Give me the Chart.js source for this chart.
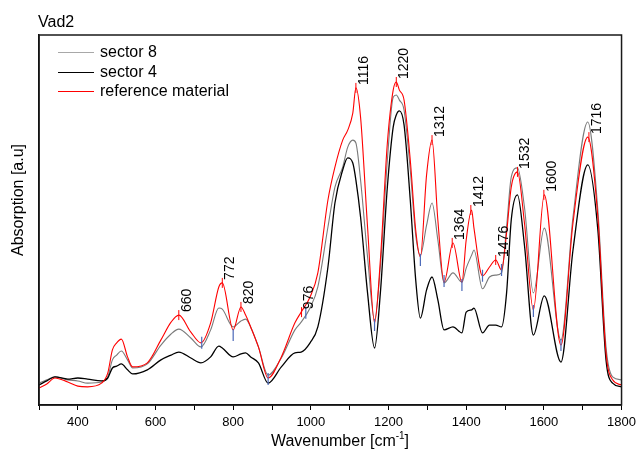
<!DOCTYPE html>
<html>
<head>
<meta charset="utf-8">
<script src="https://cdn.jsdelivr.net/npm/chart.js@4/dist/chart.umd.min.js"></script>
<style>
  html, body { margin: 0; padding: 0; background: #fff; }
  canvas { display: block; }
</style>
</head>
<body>
<canvas id="c" width="641" height="452"></canvas>
<script>
// ---- data (absorption in arbitrary units) ----
const wavenumbers = [300, 320, 341, 374, 400, 425, 461, 477, 489, 500, 512, 528, 541, 579, 614, 640, 660, 691, 717, 742, 763, 772, 800, 820, 832, 845, 865, 890, 924, 959, 975, 998, 1018, 1044, 1062, 1082, 1095, 1108, 1116, 1128, 1146, 1164, 1179, 1197, 1212, 1220, 1228, 1240, 1256, 1270, 1282, 1298, 1312, 1327, 1343, 1366, 1389, 1400, 1414, 1420, 1442, 1460, 1476, 1491, 1504, 1516, 1532, 1550, 1573, 1601, 1644, 1675, 1713, 1739, 1760, 1777, 1800];
const referenceMaterial = [0.046, 0.057, 0.073, 0.062, 0.051, 0.049, 0.059, 0.086, 0.149, 0.168, 0.178, 0.130, 0.103, 0.114, 0.176, 0.224, 0.243, 0.197, 0.168, 0.222, 0.319, 0.330, 0.203, 0.265, 0.243, 0.211, 0.157, 0.073, 0.130, 0.222, 0.251, 0.292, 0.357, 0.554, 0.643, 0.716, 0.743, 0.789, 0.857, 0.778, 0.481, 0.222, 0.392, 0.708, 0.851, 0.873, 0.851, 0.824, 0.662, 0.473, 0.400, 0.622, 0.716, 0.500, 0.332, 0.438, 0.332, 0.446, 0.527, 0.478, 0.349, 0.373, 0.392, 0.365, 0.465, 0.589, 0.630, 0.492, 0.257, 0.568, 0.162, 0.492, 0.724, 0.508, 0.141, 0.068, 0.054];
const sector8 = [0.059, 0.068, 0.076, 0.068, 0.065, 0.059, 0.062, 0.076, 0.122, 0.135, 0.146, 0.122, 0.100, 0.111, 0.162, 0.192, 0.205, 0.181, 0.157, 0.203, 0.262, 0.259, 0.211, 0.227, 0.232, 0.211, 0.157, 0.081, 0.127, 0.203, 0.224, 0.262, 0.319, 0.481, 0.589, 0.643, 0.697, 0.716, 0.708, 0.608, 0.400, 0.230, 0.373, 0.662, 0.832, 0.838, 0.824, 0.797, 0.635, 0.459, 0.405, 0.486, 0.546, 0.446, 0.330, 0.357, 0.332, 0.370, 0.405, 0.419, 0.314, 0.346, 0.351, 0.357, 0.481, 0.616, 0.641, 0.535, 0.303, 0.478, 0.176, 0.508, 0.765, 0.527, 0.157, 0.076, 0.068];
const sector4 = [0.054, 0.065, 0.076, 0.070, 0.073, 0.070, 0.065, 0.073, 0.100, 0.105, 0.111, 0.095, 0.084, 0.095, 0.122, 0.135, 0.143, 0.127, 0.114, 0.130, 0.159, 0.154, 0.130, 0.138, 0.141, 0.130, 0.114, 0.059, 0.103, 0.141, 0.143, 0.168, 0.211, 0.373, 0.546, 0.635, 0.668, 0.654, 0.608, 0.508, 0.303, 0.154, 0.303, 0.589, 0.751, 0.784, 0.795, 0.757, 0.554, 0.338, 0.235, 0.311, 0.346, 0.284, 0.203, 0.211, 0.195, 0.251, 0.257, 0.262, 0.195, 0.216, 0.216, 0.211, 0.303, 0.500, 0.568, 0.432, 0.189, 0.295, 0.116, 0.419, 0.649, 0.473, 0.122, 0.059, 0.049];

// labelled peaks of the reference material
const peakWavenumbers = [660, 772, 820, 976, 1116, 1220, 1312, 1364, 1412, 1476, 1532, 1600, 1716];
const peakValues = [0.243, 0.330, 0.265, 0.251, 0.857, 0.873, 0.716, 0.438, 0.527, 0.392, 0.630, 0.568, 0.724];

// baseline points (blue marks)
const baselineWavenumbers = [719, 800, 890, 987, 1164, 1282, 1343, 1389, 1442, 1491, 1573, 1644];
const baselineValues = [0.168, 0.189, 0.070, 0.249, 0.216, 0.392, 0.335, 0.324, 0.349, 0.365, 0.254, 0.162];

const xTickLabels = [400, 600, 800, 1000, 1200, 1400, 1600, 1800];
const seriesNames = ['sector 8', 'sector 4', 'reference material'];
const legendColors = ['#a8a8a8', '#000000', '#ff0000'];

const FONT = '"Liberation Sans", Arial, sans-serif';
const pts = (xs, ys) => xs.map((x, i) => ({ x: x, y: ys[i] }));

const decor = {
  id: 'decor',
  afterDatasetsDraw(chart) {
    const { ctx, chartArea: a, scales } = chart;
    ctx.save();
    // frame
    ctx.strokeStyle = '#1a1a1a';
    ctx.lineWidth = 1.5;
    ctx.strokeRect(a.left, a.top, a.right - a.left, a.bottom - a.top);

    // peak labels (rotated)
    ctx.fillStyle = '#000';
    ctx.font = '14px ' + FONT;
    peakWavenumbers.forEach((w, i) => {
      const px = scales.x.getPixelForValue(w);
      const py = scales.y.getPixelForValue(peakValues[i]);
      ctx.save();
      ctx.translate(px + 8, py - 3);
      ctx.rotate(-Math.PI / 2);
      ctx.textAlign = 'left';
      ctx.textBaseline = 'middle';
      ctx.fillText(String(w), 0, 0);
      ctx.restore();
    });

    // legend
    ctx.font = '16px ' + FONT;
    ctx.textAlign = 'left';
    ctx.textBaseline = 'middle';
    for (let i = 0; i < seriesNames.length; i++) {
      const y = Math.round(52 + i * 19.5);
      ctx.fillStyle = legendColors[i];
      ctx.fillRect(58, y, 36, 1);
      ctx.fillStyle = '#000';
      ctx.fillText(seriesNames[i], 100, y + 1);
    }

    // title
    ctx.fillStyle = '#000';
    ctx.font = '16px ' + FONT;
    ctx.textBaseline = 'alphabetic';
    ctx.fillText('Vad2', 38, 27);

    // y title
    ctx.save();
    ctx.translate(23, 200);
    ctx.rotate(-Math.PI / 2);
    ctx.textAlign = 'center';
    ctx.textBaseline = 'alphabetic';
    ctx.fillText('Absorption [a.u]', 0, 0);
    ctx.restore();

    // x title with superscript
    const t1 = 'Wavenumber [cm', sup = '-1', t2 = ']';
    ctx.font = '16px ' + FONT;
    const w1 = ctx.measureText(t1).width, w3 = ctx.measureText(t2).width;
    ctx.font = '10px ' + FONT;
    const w2 = ctx.measureText(sup).width;
    const total = w1 + w2 + w3;
    const x0 = 340 - total / 2;
    const base = 446;
    ctx.textAlign = 'left';
    ctx.font = '16px ' + FONT;
    ctx.fillText(t1, x0, base);
    ctx.font = '10px ' + FONT;
    ctx.fillText(sup, x0 + w1, base - 7);
    ctx.font = '16px ' + FONT;
    ctx.fillText(t2, x0 + w1 + w2, base);
    ctx.restore();
  }
};

new Chart(document.getElementById('c'), {
  type: 'line',
  data: {
    datasets: [
      { label: seriesNames[2], data: pts(wavenumbers, referenceMaterial), borderColor: '#ff0000', borderWidth: 1.1, pointRadius: 0, cubicInterpolationMode: 'monotone', order: 1 },
      { label: seriesNames[1], data: pts(wavenumbers, sector4), borderColor: '#000000', borderWidth: 1.3, pointRadius: 0, cubicInterpolationMode: 'monotone', order: 2 },
      { label: seriesNames[0], data: pts(wavenumbers, sector8), borderColor: '#7a7a7a', borderWidth: 1.1, pointRadius: 0, cubicInterpolationMode: 'monotone', order: 3 },
      { type: 'scatter', label: 'baseline', data: pts(baselineWavenumbers, baselineValues), pointStyle: 'line', rotation: 90, pointRadius: 6, borderColor: '#4a68b8', borderWidth: 1.2, backgroundColor: '#4a68b8', showLine: false, order: 0 },
      { type: 'scatter', label: 'peaks', data: pts(peakWavenumbers, peakValues), pointStyle: 'line', rotation: 90, pointRadius: 5, borderColor: '#ff0000', borderWidth: 1, backgroundColor: '#ff0000', showLine: false, order: 0 }
    ]
  },
  options: {
    responsive: false,
    animation: false,
    events: [],
    layout: { padding: { top: 35, right: 15, left: 0, bottom: 0 } },
    plugins: { legend: { display: false }, tooltip: { enabled: false }, title: { display: false } },
    scales: {
      x: {
        type: 'linear', min: 300, max: 1800,
        afterFit: s => { s.height = 47; },
        ticks: {
          stepSize: 100, autoSkip: false, maxRotation: 0, padding: 5,
          color: '#000', font: { size: 13, family: FONT },
          callback: v => xTickLabels.includes(v) ? String(v) : ''
        },
        grid: { drawOnChartArea: false, drawTicks: true, tickLength: 5, color: '#000', lineWidth: 1 },
        border: { display: true, color: '#000', width: 1.5 }
      },
      y: {
        min: 0, max: 1,
        afterFit: s => { s.width = 39; },
        ticks: { display: false },
        grid: { drawOnChartArea: false, drawTicks: false },
        border: { display: true, color: '#000', width: 1.5 }
      }
    }
  },
  plugins: [decor]
});
</script>
</body>
</html>
